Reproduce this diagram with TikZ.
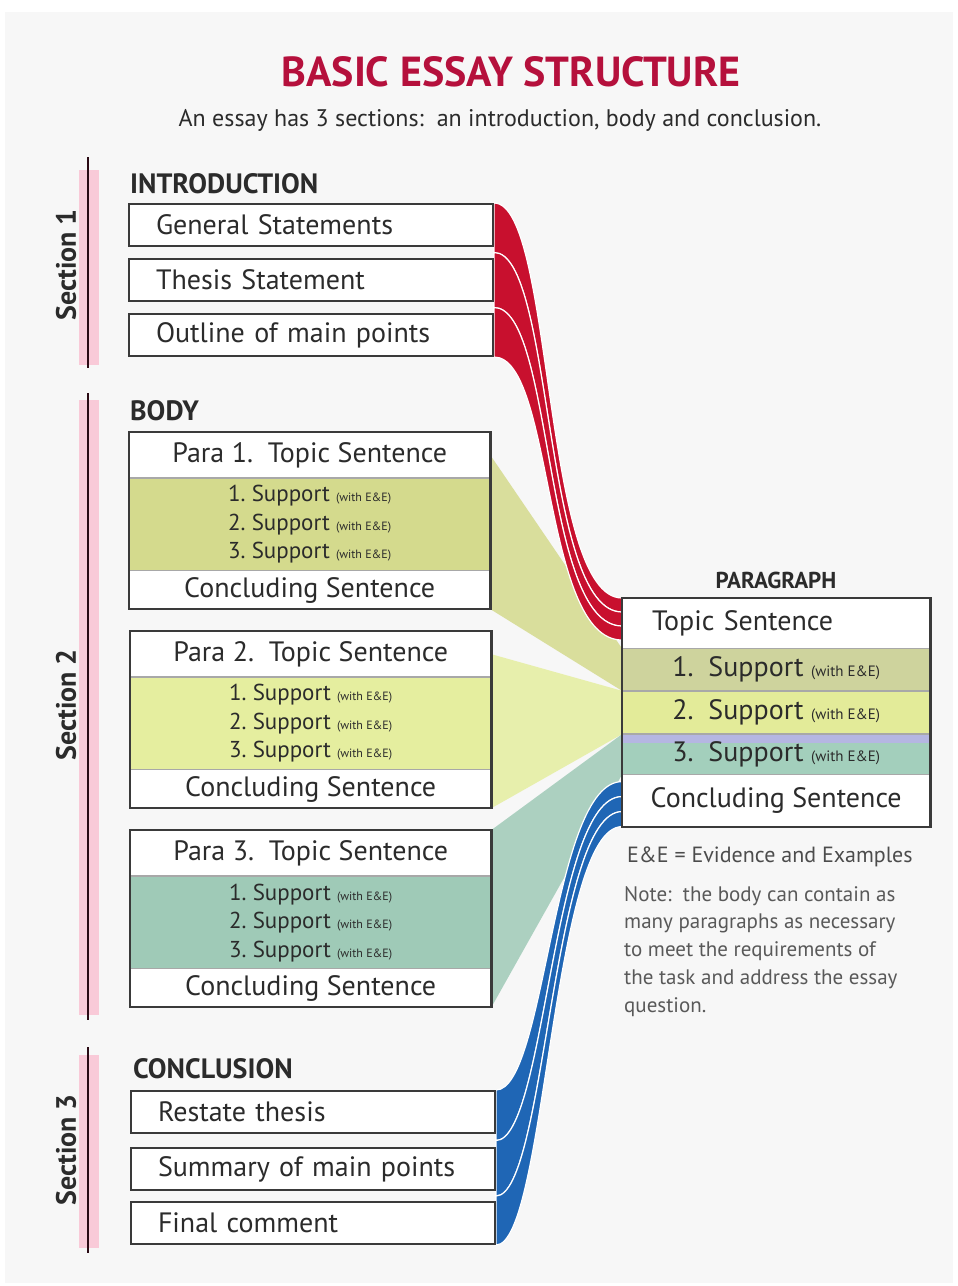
\documentclass[tikz,border=0pt]{standalone}
\usepackage{fontspec}
\setmainfont{PT Sans}
\usetikzlibrary{positioning,calc,backgrounds}

\definecolor{bgcol}{HTML}{F7F7F7}
\definecolor{edgegray}{HTML}{3A3A3A}
\definecolor{rowgray}{HTML}{A8A8A8}
\definecolor{txt}{HTML}{2B2B2B}
\definecolor{titlered}{HTML}{B5103C}
\definecolor{redrib}{HTML}{C8102E}
\definecolor{bluerib}{HTML}{1F66B5}
\definecolor{olivefill}{HTML}{D4DA8D}
\definecolor{yellowfill}{HTML}{E5EE9F}
\definecolor{tealfill}{HTML}{9FCAB7}
\definecolor{oliveright}{HTML}{CED39D}
\definecolor{yellowright}{HTML}{E3EB99}
\definecolor{tealright}{HTML}{A3CFBC}
\definecolor{lavender}{HTML}{B5B6E2}
\definecolor{pinkband}{HTML}{F9CAD8}
\definecolor{secdark}{HTML}{2A0A14}

\newcommand\suppline[1]{#1.\ Support {\fontsize{12}{13}\selectfont(with E\&E)}}
\newcommand\psuppline[1]{#1.\ \ Support {\fontsize{15}{16}\selectfont(with E\&E)}}

\begin{document}
\begin{tikzpicture}[x=1pt, y=-1pt,
  every node/.style={inner sep=0pt, text=txt},
  item/.style={draw=edgegray, line width=2pt, fill=white, minimum height=42pt,
    text width=310pt, inner xsep=27pt, align=left, font=\fontsize{28}{32}\selectfont},
  row/.style={minimum width=361pt, fill=white, font=\fontsize{28}{32}\selectfont},
  supprow/.style={row, minimum height=92pt, align=left, font=\fontsize{23}{28.5}\selectfont},
  prow/.style={minimum width=308pt, fill=white, font=\fontsize{28}{32}\selectfont},
  head/.style={anchor=base west, font=\bfseries\fontsize{28}{32}\selectfont},
  sect/.style={rotate=90, font=\bfseries\fontsize{28}{32}\selectfont},
  boxframe/.style={draw=edgegray, line width=2.5pt},
  rowline/.style={draw=rowgray, line width=2pt},
  secline/.style={draw=secdark, line width=2pt},
  fan/.style={opacity=0.85},
  strand/.style={draw=white, line width=1.2pt}
  ]
  \useasboundingbox (0,0) rectangle (958,1286);

  % title
  \node[font=\bfseries\fontsize{42}{46}\selectfont, text=titlered] (title) at (511,72) {BASIC ESSAY STRUCTURE};
  \node[font=\fontsize{24}{28}\selectfont] (sub) at (500,120) {An essay has 3 sections:\ \ an introduction, body and conclusion.};

  % section 1
  \node[head] (introhead) at (130,193) {INTRODUCTION};
  \node[item, anchor=north west] (gen) at (128,203) {General Statements};
  \node[item, below=11pt of gen] (thesis) {Thesis Statement};
  \node[item, below=11pt of thesis] (outline) {Outline of main points};

  % section 2
  \node[head] (bodyhead) at (130,420) {BODY};

  \node[row, minimum height=46pt, anchor=north west] (p1t) at (129,432) {Para 1.\ \ Topic Sentence};
  \node[supprow, fill=olivefill, below=0pt of p1t] (p1s) {\suppline{1}\\\suppline{2}\\\suppline{3}};
  \node[row, minimum height=38pt, below=0pt of p1s] (p1c) {Concluding Sentence};

  \node[row, minimum height=46pt, anchor=north west] (p2t) at (130,631) {Para 2.\ \ Topic Sentence};
  \node[supprow, fill=yellowfill, below=0pt of p2t] (p2s) {\suppline{1}\\\suppline{2}\\\suppline{3}};
  \node[row, minimum height=38pt, below=0pt of p2s] (p2c) {Concluding Sentence};

  \node[row, minimum height=46pt, anchor=north west] (p3t) at (130,830) {Para 3.\ \ Topic Sentence};
  \node[supprow, fill=tealfill, below=0pt of p3t] (p3s) {\suppline{1}\\\suppline{2}\\\suppline{3}};
  \node[row, minimum height=38pt, below=0pt of p3s] (p3c) {Concluding Sentence};

  \foreach \p in {p1,p2,p3} {
    \draw[rowline] (\p t.south west) -- (\p t.south east);
    \draw[rowline, line width=1pt] (\p c.north west) -- (\p c.north east);
    \draw[boxframe] (\p t.north west) rectangle (\p c.south east);
  }

  % section 3
  \node[head] (conchead) at (133,1078) {CONCLUSION};
  \node[item, anchor=north west] (restate) at (130,1090) {Restate thesis};
  \node[item, below=13pt of restate] (summ) {Summary of main points};
  \node[item, below=10pt of summ] (final) {Final comment};

  % section labels and bars
  \fill[pinkband] (79,170) rectangle (99,365);
  \draw[secline] (88,157) -- (88,368);
  \node[sect] (sec1) at (66,265) {Section 1};
  \fill[pinkband] (79,400) rectangle (99,1015);
  \draw[secline] (88,393) -- (88,1020);
  \node[sect] (sec2) at (66,705) {Section 2};
  \fill[pinkband] (79,1055) rectangle (99,1248);
  \draw[secline] (88,1047) -- (88,1253);
  \node[sect] (sec3) at (66,1150) {Section 3};

  % paragraph box
  \node[font=\bfseries\fontsize{23}{26}\selectfont, anchor=base] (parahead) at (776,588) {PARAGRAPH};
  \node[prow, minimum height=50pt, anchor=north west, text width=248pt, align=left, inner xsep=30pt] (ptop) at (622,598) {Topic Sentence};
  \node[prow, minimum height=42pt, fill=oliveright, below=0pt of ptop] (ps1) {\psuppline{1}};
  \node[prow, minimum height=43pt, fill=yellowright, below=0pt of ps1] (ps2) {\psuppline{2}};
  \node[prow, minimum height=40pt, fill=tealright, below=0pt of ps2,
    path picture={\fill[lavender] (path picture bounding box.north west) rectangle ([yshift=-9pt]path picture bounding box.north east);}] (ps3) {\psuppline{3}};
  \node[prow, minimum height=52pt, below=0pt of ps3] (pcon) {Concluding Sentence};
  \foreach \r in {ptop,ps1,ps2,ps3}
    \draw[rowline, line width=1.5pt] (\r.south west) -- (\r.south east);
  \draw[boxframe] (ptop.north west) rectangle (pcon.south east);

  % notes
  \node[anchor=base west, font=\fontsize{22}{26}\selectfont, text=black!70] (ee) at (627,862) {E\&E = Evidence and Examples};
  \node[anchor=north west, align=left, font=\fontsize{21}{27.8}\selectfont, text=black!65] (note) at (624,886)
    {Note:\ \ the body can contain as\\many paragraphs as necessary\\to meet the requirements of\\the task and address the essay\\question.};

  % ribbon ends
  \coordinate (r0) at (gen.north east);
  \coordinate (r1) at ($(gen.south east)!.5!(thesis.north east)$);
  \coordinate (r2) at ($(thesis.south east)!.5!(outline.north east)$);
  \coordinate (r3) at (outline.south east);
  \coordinate (b0) at (restate.north east);
  \coordinate (b1) at ($(restate.south east)!.5!(summ.north east)$);
  \coordinate (b2) at ($(summ.south east)!.5!(final.north east)$);
  \coordinate (b3) at (final.south east);

  \begin{pgfonlayer}{background}
    \fill[white] (0,0) rectangle (958,1286);
    \fill[bgcol] (5,12) rectangle (953,1283);
    % fans from body paragraphs
    \fill[fan, olivefill] (p1t.east) -- (ps1.north west) -- (ps1.south west) -- (p1c.south east) -- cycle;
    \fill[fan, yellowfill] (p2t.east) -- (ps2.north west) -- (ps2.south west) -- (p2c.south east) -- cycle;
    \fill[fan, tealfill] (p3t.north east) -- (ps3.north west) -- (ps3.south west) -- (p3c.south east) -- cycle;
    % red ribbon
    \foreach \u/\v/\a/\b in {r0/r1/0/-14, r1/r2/-14/-28, r2/r3/-28/-42}
      \filldraw[strand, fill=redrib] (\u) .. controls +(60,0) and +(-80,0) .. ([yshift=\a pt]ptop.north west)
        -- ([yshift=\b pt]ptop.north west) .. controls +(-80,0) and +(60,0) .. (\v) -- cycle;
    % blue ribbon
    \foreach \u/\v/\a/\b in {b0/b1/-7/-22, b1/b2/-22/-37, b2/b3/-37/-52}
      \filldraw[strand, fill=bluerib] (\u) .. controls +(50,0) and +(-70,0) .. ([yshift=\a pt]pcon.north west)
        -- ([yshift=\b pt]pcon.north west) .. controls +(-70,0) and +(50,0) .. (\v) -- cycle;
  \end{pgfonlayer}
\end{tikzpicture}
\end{document}
